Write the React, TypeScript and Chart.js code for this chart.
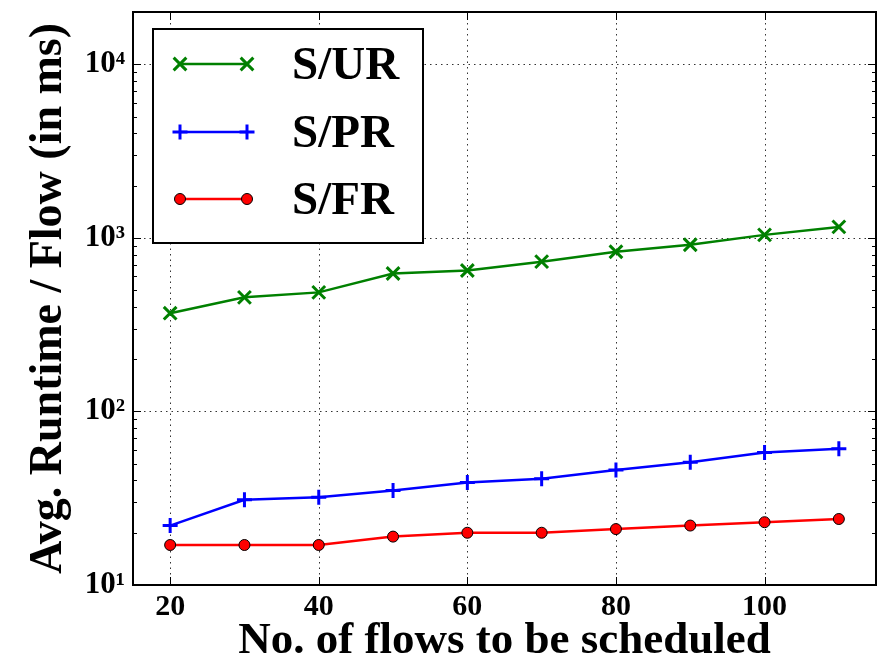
import React, { useEffect, useRef } from "react";
import { Chart, registerables } from "chart.js";

Chart.register(...registerables);

const flows = [20, 30, 40, 50, 60, 70, 80, 90, 100, 110];
const surValues = [368, 454, 485, 623, 648, 729, 832, 912, 1040, 1156];
const sprValues = [22, 31, 32, 35, 39, 41, 46, 51, 58, 61];
const sfrValues = [17, 17, 17, 19, 20, 20, 21, 22, 23, 24];
const xTickValues = [20, 40, 60, 80, 100];
const yTickValues = [10, 100, 1000, 10000];
const seriesLabels = ["S/UR", "S/PR", "S/FR"];

const SERIF = "'Liberation Serif', 'Times New Roman', serif";
const SUP: Record<string, string> = { "1": "\u00B9", "2": "\u00B2", "3": "\u00B3", "4": "\u2074" };

function drawMarker(ctx: CanvasRenderingContext2D, style: string, x: number, y: number, r: number, color: string) {
  ctx.save();
  ctx.setLineDash([]);
  if (style === "crossRot") {
    const d = r * 0.7071;
    ctx.strokeStyle = color;
    ctx.lineWidth = 3;
    ctx.beginPath();
    ctx.moveTo(x - d, y - d); ctx.lineTo(x + d, y + d);
    ctx.moveTo(x - d, y + d); ctx.lineTo(x + d, y - d);
    ctx.stroke();
  } else if (style === "cross") {
    ctx.strokeStyle = color;
    ctx.lineWidth = 3;
    ctx.beginPath();
    ctx.moveTo(x - r, y); ctx.lineTo(x + r, y);
    ctx.moveTo(x, y - r); ctx.lineTo(x, y + r);
    ctx.stroke();
  } else {
    ctx.fillStyle = color;
    ctx.strokeStyle = "#000";
    ctx.lineWidth = 1;
    ctx.beginPath();
    ctx.arc(x, y, r, 0, Math.PI * 2);
    ctx.fill();
    ctx.stroke();
  }
  ctx.restore();
}

const framePlugin = {
  id: "frame",
  beforeDatasetsDraw(chart: any) {
    const { ctx, chartArea, scales } = chart;
    const { left, right, top, bottom } = chartArea;
    const x = scales.x;
    const y = scales.y;
    ctx.save();
    ctx.strokeStyle = "#333";
    ctx.lineWidth = 1;
    ctx.setLineDash([1.5, 4]);
    ctx.beginPath();
    for (const v of xTickValues) {
      const px = Math.round(x.getPixelForValue(v)) + 0.5;
      ctx.moveTo(px, top); ctx.lineTo(px, bottom);
    }
    for (const v of yTickValues) {
      const py = Math.round(y.getPixelForValue(v)) + 0.5;
      ctx.moveTo(left, py); ctx.lineTo(right, py);
    }
    ctx.stroke();
    ctx.setLineDash([]);
    ctx.strokeStyle = "#000";
    ctx.lineWidth = 1;
    ctx.beginPath();
    for (const v of xTickValues) {
      const px = Math.round(x.getPixelForValue(v)) + 0.5;
      ctx.moveTo(px, bottom); ctx.lineTo(px, bottom - 8);
      ctx.moveTo(px, top); ctx.lineTo(px, top + 8);
    }
    for (const v of yTickValues) {
      const py = Math.round(y.getPixelForValue(v)) + 0.5;
      ctx.moveTo(left, py); ctx.lineTo(left + 8, py);
      ctx.moveTo(right, py); ctx.lineTo(right - 8, py);
    }
    for (const dec of yTickValues) {
      for (let k = 2; k <= 9; k++) {
        const v = dec * k;
        if (v >= y.max) continue;
        const py = Math.round(y.getPixelForValue(v)) + 0.5;
        ctx.moveTo(left, py); ctx.lineTo(left + 4, py);
        ctx.moveTo(right, py); ctx.lineTo(right - 4, py);
      }
    }
    ctx.stroke();
    ctx.lineWidth = 2;
    ctx.strokeRect(left, top, right - left, bottom - top);
    ctx.restore();
  },
  afterDatasetsDraw(chart: any) {
    const { ctx } = chart;
    const bx = 153, by = 29, bw = 270, bh = 214;
    ctx.save();
    ctx.fillStyle = "#fff";
    ctx.fillRect(bx, by, bw, bh);
    ctx.strokeStyle = "#000";
    ctx.lineWidth = 2;
    ctx.strokeRect(bx, by, bw, bh);
    const rows = [64, 132, 199];
    chart.data.datasets.forEach((ds: any, i: number) => {
      const ly = rows[i];
      ctx.strokeStyle = ds.borderColor;
      ctx.lineWidth = ds.borderWidth;
      ctx.beginPath();
      ctx.moveTo(180, ly); ctx.lineTo(247, ly);
      ctx.stroke();
      const col = ds.pointStyle === "circle" ? ds.pointBackgroundColor : ds.borderColor;
      drawMarker(ctx, ds.pointStyle, 180, ly, ds.pointRadius, col);
      drawMarker(ctx, ds.pointStyle, 247, ly, ds.pointRadius, col);
      ctx.fillStyle = "#000";
      ctx.font = `bold 47px ${SERIF}`;
      ctx.textBaseline = "middle";
      ctx.textAlign = "left";
      ctx.fillText(ds.label, 292, ly + 3);
    });
    ctx.restore();
  },
};

function noPadding(scale: any) {
  scale.paddingTop = 0;
  scale.paddingBottom = 0;
  scale.paddingLeft = 0;
  scale.paddingRight = 0;
}

export default function App() {
  const canvasRef = useRef<HTMLCanvasElement | null>(null);

  useEffect(() => {
    const canvas = canvasRef.current;
    if (!canvas) return;
    const chart = new Chart(canvas, {
      type: "line",
      data: {
        datasets: [
          {
            label: seriesLabels[0],
            data: flows.map((f, i) => ({ x: f, y: surValues[i] })),
            borderColor: "#008000",
            backgroundColor: "#008000",
            pointBackgroundColor: "#008000",
            pointBorderColor: "#008000",
            borderWidth: 2.5,
            pointStyle: "crossRot",
            pointRadius: 9,
            pointBorderWidth: 3,
          },
          {
            label: seriesLabels[1],
            data: flows.map((f, i) => ({ x: f, y: sprValues[i] })),
            borderColor: "#0000ff",
            backgroundColor: "#0000ff",
            pointBackgroundColor: "#0000ff",
            pointBorderColor: "#0000ff",
            borderWidth: 2.5,
            pointStyle: "cross",
            pointRadius: 7.5,
            pointBorderWidth: 3,
          },
          {
            label: seriesLabels[2],
            data: flows.map((f, i) => ({ x: f, y: sfrValues[i] })),
            borderColor: "#ff0000",
            backgroundColor: "#ff0000",
            pointBackgroundColor: "#ff0000",
            pointBorderColor: "#000000",
            borderWidth: 2.5,
            pointStyle: "circle",
            pointRadius: 5.5,
            pointBorderWidth: 1,
          },
        ] as any,
      },
      options: {
        responsive: false,
        animation: false,
        layout: { padding: { top: 7, right: 4, left: 0, bottom: 0 } },
        plugins: { legend: { display: false }, tooltip: { enabled: false } },
        scales: {
          x: {
            type: "linear",
            min: 15,
            max: 115,
            afterBuildTicks: (scale: any) => {
              scale.ticks = xTickValues.map((v) => ({ value: v }));
            },
            afterFit: (scale: any) => {
              scale.height = 75;
              noPadding(scale);
            },
            grid: { display: false, drawTicks: false },
            border: { display: false },
            ticks: {
              color: "#000",
              padding: 4,
              maxRotation: 0,
              font: { family: SERIF, size: 30, weight: "bold" },
            },
            title: {
              display: true,
              text: "No. of flows to be scheduled",
              color: "#000",
              font: { family: SERIF, size: 45, weight: "bold", lineHeight: 1 },
              padding: { top: 0, bottom: -4 },
            },
          },
          y: {
            type: "logarithmic",
            min: 10,
            max: 20000,
            afterBuildTicks: (scale: any) => {
              scale.ticks = yTickValues.map((v) => ({ value: v, major: true }));
            },
            afterFit: (scale: any) => {
              scale.width = 133;
              noPadding(scale);
            },
            grid: { display: false, drawTicks: false },
            border: { display: false },
            ticks: {
              color: "#000",
              padding: 8,
              font: { family: SERIF, size: 31, weight: "bold" },
              callback: (value: any) => {
                const e = Math.round(Math.log10(Number(value)));
                return "10" + (SUP[String(e)] || "");
              },
            },
            title: {
              display: true,
              text: "Avg. Runtime / Flow (in ms)",
              color: "#000",
              font: { family: SERIF, size: 46, weight: "bold", lineHeight: 1 },
              padding: { top: 26, bottom: 0 },
            },
          },
        },
      },
      plugins: [framePlugin],
    });
    return () => chart.destroy();
  }, []);

  return (
    <div style={{ position: "absolute", left: 0, top: 0, width: 888, height: 660, background: "#fff" }}>
      <canvas ref={canvasRef} width={888} height={660} />
    </div>
  );
}
